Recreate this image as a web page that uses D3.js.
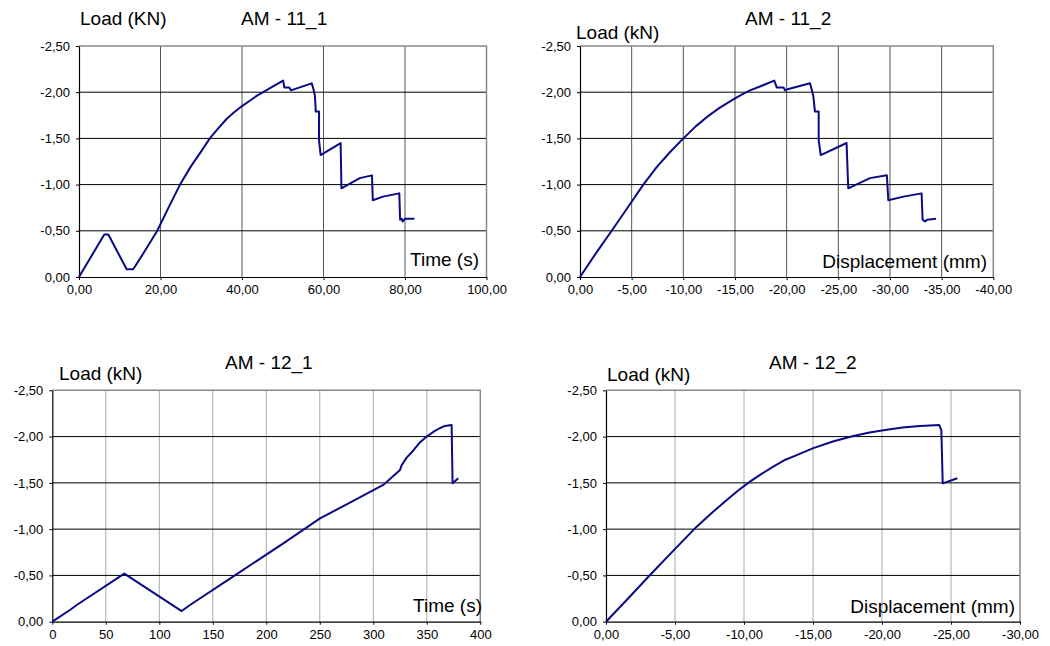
<!DOCTYPE html>
<html>
<head>
<meta charset="utf-8">
<script src="https://cdn.jsdelivr.net/npm/d3@7"></script>
<style>
  body { margin: 0; background: #fff; }
  svg text { font-family: "Liberation Sans", Arial, sans-serif; fill: #000; }
</style>
</head>
<body>
<div class="charts"></div>
<script>
// AM - 11_1 : time (s) vs load (kN)
const am111Time = [0, 6.2, 7.2, 11.7, 13.3, 16, 19.2, 22.3, 24.8, 27.5, 29.7, 32.1, 34, 36.2, 38, 40, 42, 43.6,
  45.2, 47.5, 50.1,
  50.4, 51.6, 52, 57.1, 57.5, 57.9, 58.1, 58.9, 58.9, 59.3, 64.2, 64.4, 68.9, 71.9, 72.1,
  74.6, 78.6, 78.8, 79.2, 79.4, 80, 82.3]
const am111Load = [0, -0.46, -0.46, -0.083, -0.083, -0.27, -0.5, -0.78, -1.0, -1.2, -1.34, -1.5, -1.6, -1.71,
  -1.78, -1.85, -1.91, -1.96, -2.0, -2.06, -2.125,
  -2.05, -2.05, -2.02, -2.096, -2.04, -1.96, -1.79, -1.79, -1.48, -1.32, -1.45, -0.96, -1.07, -1.10, -0.83,
  -0.87, -0.905, -0.62, -0.63, -0.60, -0.63, -0.63]

// AM - 11_2 : displacement (mm) vs load (kN)
const am112Disp = [0, -1.5, -3.07, -4.6, -6.13, -7.42, -8.7, -10.0, -11.2, -12.26, -13.5, -14.8, -15.6,
  -16.45, -17.6, -18.8,
  -19.05, -19.7, -19.85, -20.0, -22.26, -22.4, -22.58, -22.74, -23.1, -23.1, -23.3, -25.8, -25.96,
  -28.06, -29.7, -29.84, -31.3, -33.06, -33.16, -33.4, -33.6, -34.45]
const am112Load = [0, -0.25, -0.5, -0.75, -1.0, -1.19, -1.35, -1.5, -1.63, -1.73, -1.83, -1.92, -1.97,
  -2.02, -2.07, -2.125,
  -2.05, -2.05, -2.02, -2.03, -2.096, -2.04, -1.96, -1.79, -1.79, -1.48, -1.32, -1.45, -0.96,
  -1.07, -1.10, -0.83, -0.87, -0.905, -0.62, -0.60, -0.62, -0.63]

// AM - 12_1 : time (s) vs load (kN)
const am121Time = [0, 16.5, 22.8, 67.3, 120.9, 128.7, 169.2, 215.9, 250.2, 278.2, 309.3, 325, 326.5,
  331, 337.4, 343, 349.9, 356, 362, 367, 373.2, 374.1, 379.4]
const am121Load = [0, -0.126, -0.18, -0.52, -0.115, -0.18, -0.49, -0.847, -1.117, -1.286, -1.477, -1.64, -1.69,
  -1.77, -1.85, -1.93, -2.0, -2.05, -2.09, -2.115, -2.125, -1.495, -1.55]

// AM - 12_2 : displacement (mm) vs load (kN)
const am122Disp = [0, -1.6, -3.19, -4.9, -6.57, -7.7, -8.75, -9.6, -10.43, -11.3, -12.12, -13, -13.82,
  -15.02, -16.5, -17.92, -19.1, -20.34, -21.5, -22.75, -24.15, -24.3, -24.4, -25.46]
const am122Load = [0, -0.25, -0.505, -0.77, -1.027, -1.18, -1.315, -1.42, -1.513, -1.6, -1.675, -1.75, -1.8,
  -1.875, -1.95, -2.007, -2.045, -2.075, -2.098, -2.115, -2.125, -2.07, -1.495, -1.55]

// tick values
const loadTicks = [0, -0.5, -1.0, -1.5, -2.0, -2.5]
const time11Ticks = [0, 20, 40, 60, 80, 100]
const disp11Ticks = [0, -5, -10, -15, -20, -25, -30, -35, -40]
const time12Ticks = [0, 50, 100, 150, 200, 250, 300, 350, 400]
const disp12Ticks = [0, -5, -10, -15, -20, -25, -30]

const fmtComma = d => d3.format('.2f')(d).replace('.', ',').replace('−', '-')

const svg = d3.select('.charts').append('svg')
  .attr('width', 1050).attr('height', 646)

const panels = [
  { title: 'AM - 11_1', yLabel: 'Load (KN)', xLabel: 'Time (s)',
    xs: am111Time, ys: am111Load, xTicks: time11Ticks, xFmt: fmtComma,
    left: 79, right: 486.5, top: 46, bottom: 277, vGrid: '#555',
    titlePos: [241, 25], yLabelPos: [80, 25], xLabelPos: [479, 266] },
  { title: 'AM - 11_2', yLabel: 'Load (kN)', xLabel: 'Displacement (mm)',
    xs: am112Disp, ys: am112Load, xTicks: disp11Ticks, xFmt: fmtComma,
    left: 580, right: 993.3, top: 46, bottom: 277, vGrid: '#555',
    titlePos: [745, 25], yLabelPos: [576, 39], xLabelPos: [987, 268] },
  { title: 'AM - 12_1', yLabel: 'Load (kN)', xLabel: 'Time (s)',
    xs: am121Time, ys: am121Load, xTicks: time12Ticks, xFmt: d => d,
    left: 52.3, right: 480.3, top: 390.3, bottom: 621.7, vGrid: '#aaa',
    titlePos: [225, 369], yLabelPos: [59, 380], xLabelPos: [482, 612] },
  { title: 'AM - 12_2', yLabel: 'Load (kN)', xLabel: 'Displacement (mm)',
    xs: am122Disp, ys: am122Load, xTicks: disp12Ticks, xFmt: fmtComma,
    left: 606, right: 1020, top: 390.3, bottom: 621.7, vGrid: '#aaa',
    titlePos: [769, 369], yLabelPos: [607, 381], xLabelPos: [1015, 613] }
]

panels.forEach(p => {
  const x = d3.scaleLinear()
    .domain([p.xTicks[0], p.xTicks[p.xTicks.length - 1]])
    .range([p.left, p.right])
  const y = d3.scaleLinear().domain([0, -2.5]).range([p.bottom, p.top])
  const g = svg.append('g')

  // grid
  g.append('g').selectAll('line').data(p.xTicks.slice(1, -1)).join('line')
    .attr('x1', d => x(d)).attr('x2', d => x(d))
    .attr('y1', p.top).attr('y2', p.bottom)
    .attr('stroke', p.vGrid).attr('stroke-width', 1)
  g.append('g').selectAll('line').data(loadTicks.slice(1, -1)).join('line')
    .attr('x1', p.left).attr('x2', p.right)
    .attr('y1', d => y(d)).attr('y2', d => y(d))
    .attr('stroke', '#000').attr('stroke-width', 1)

  // frame: gray top/right
  g.append('path')
    .attr('d', `M${p.left},${p.top}H${p.right}V${p.bottom}`)
    .attr('fill', 'none').attr('stroke', '#888').attr('stroke-width', 1.5)

  // axes
  const xAxis = d3.axisBottom(x).tickValues(p.xTicks).tickFormat(p.xFmt)
    .tickSizeInner(3).tickSizeOuter(0).tickPadding(5)
  const yAxis = d3.axisLeft(y).tickValues(loadTicks).tickFormat(fmtComma)
    .tickSizeInner(3).tickSizeOuter(0).tickPadding(6)

  const xg = g.append('g').attr('transform', `translate(0,${p.bottom})`).call(xAxis)
  const yg = g.append('g').attr('transform', `translate(${p.left},0)`).call(yAxis)
  ;[xg, yg].forEach(a => {
    a.select('.domain').attr('stroke', '#000').attr('stroke-width', 1.2)
    a.selectAll('.tick line').attr('stroke', '#000')
    a.selectAll('.tick text').style('font-size', '13px')
      .style('font-family', '"Liberation Sans", Arial, sans-serif').attr('fill', '#000')
  })

  // series
  const pts = p.xs.map((v, i) => [v, p.ys[i]])
  g.append('path').datum(pts)
    .attr('d', d3.line().x(d => x(d[0])).y(d => y(d[1])))
    .attr('fill', 'none').attr('stroke', '#0a0a86').attr('stroke-width', 2)
    .attr('stroke-linejoin', 'round')

  // labels
  g.append('text').attr('x', p.titlePos[0]).attr('y', p.titlePos[1])
    .style('font-size', '19px').text(p.title)
  g.append('text').attr('x', p.yLabelPos[0]).attr('y', p.yLabelPos[1])
    .style('font-size', '19px').text(p.yLabel)
  g.append('text').attr('x', p.xLabelPos[0]).attr('y', p.xLabelPos[1])
    .attr('text-anchor', 'end').style('font-size', '19px').text(p.xLabel)
})
</script>
</body>
</html>
